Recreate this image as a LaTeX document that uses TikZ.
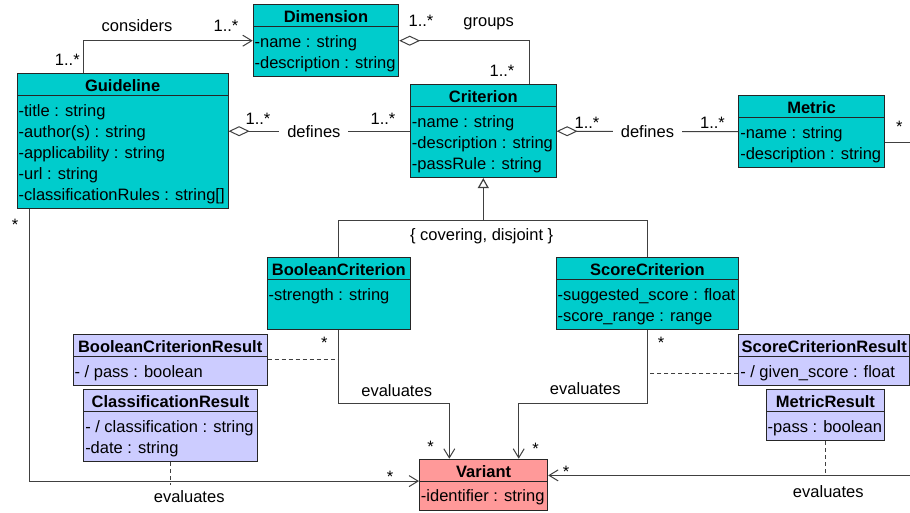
\documentclass[tikz,border=0pt]{standalone}
\usepackage{fontspec}
\setmainfont{Liberation Sans}
\usetikzlibrary{shapes.multipart,arrows.meta}

\definecolor{clsfill}{RGB}{0,204,204}
\definecolor{resfill}{RGB}{204,204,255}
\definecolor{varfill}{RGB}{255,153,153}

\newcommand{\ctitle}[1]{\rule[-3.3pt]{0pt}{21pt}\textbf{#1}}
\newcommand{\cattrs}[1]{\begin{tabular}{@{}l@{}}\rule{0pt}{20.4pt}#1\rule[-7.7pt]{0pt}{7.7pt}\end{tabular}}

\tikzset{
    classbox/.style={rectangle split, rectangle split parts=2, rectangle split part align={center,left},
                     draw=black!85, line width=0.9pt, fill=clsfill, inner xsep=1.5pt, inner ysep=0pt, anchor=north west},
    resbox/.style={classbox, fill=resfill},
    varbox/.style={classbox, fill=varfill},
    lbl/.style={anchor=base, inner sep=0pt},
    assoc/.style={draw=black!75, line width=1pt, -{Straight Barb[length=9pt,width=11pt]}},
    aggr/.style={draw=black!75, line width=1pt, {Diamond[open,fill=white,length=21pt,width=10pt]}-},
    gen/.style={draw=black!75, line width=1.2pt},
    assoclink/.style={draw=black!75, line width=1pt, dash pattern=on 4pt off 3pt},
}

\begin{document}
\begin{tikzpicture}[x=1pt, y=-1pt, font=\fontsize{16.5}{21}\selectfont]

    \path[fill=white, use as bounding box] (0,0) rectangle (910,512);

    % classes
    \node[classbox, minimum width=145.6pt]  (dim)   at (252.7,4.3)   {\ctitle{Dimension}\nodepart{two}\cattrs{-name : string\\-description : string}};
    \node[classbox, minimum width=211pt]    (guide) at (16.7,73.3)   {\ctitle{Guideline}\nodepart{two}\cattrs{-title : string\\-author(s) : string\\-applicability : string\\-url : string\\-classificationRules : string[]}};
    \node[classbox, minimum width=145.7pt]  (crit)  at (410,84.3)    {\ctitle{Criterion}\nodepart{two}\cattrs{-name : string\\-description : string\\-passRule : string}};
    \node[classbox, minimum width=145.7pt]  (met)   at (738.3,95.3)  {\ctitle{Metric}\nodepart{two}\cattrs{-name : string\\-description : string}};
    \node[classbox, minimum width=143.3pt]  (bc)    at (266.7,257.3) {\ctitle{BooleanCriterion}\nodepart{two}\cattrs{-strength : string\\~}};
    \node[classbox, minimum width=182.6pt]  (sc)    at (555.7,257.3) {\ctitle{ScoreCriterion}\nodepart{two}\cattrs{-suggested\_score : float\\-score\_range : range}};

    \node[resbox, minimum width=194pt]      (bcr)   at (72.7,334)    {\ctitle{BooleanCriterionResult}\nodepart{two}\cattrs{- / pass : boolean}};
    \node[resbox, minimum width=171pt]      (scr)   at (738.3,334)   {\ctitle{ScoreCriterionResult}\nodepart{two}\cattrs{- / given\_score : float}};
    \node[resbox, minimum width=173.7pt]    (cr)    at (83.3,389.3)  {\ctitle{ClassificationResult}\nodepart{two}\cattrs{- / classification : string\\-date : string}};
    \node[resbox, minimum width=118.6pt]    (mr)    at (765.7,389.3) {\ctitle{MetricResult}\nodepart{two}\cattrs{-pass : boolean}};

    \node[varbox, minimum width=128.3pt]    (var)   at (419,458.7)   {\ctitle{Variant}\nodepart{two}\cattrs{-identifier : string}};

    % helper points
    \coordinate (gj)    at ([yshift=-42.3pt]crit.south);
    \coordinate (mline) at ([yshift=9.2pt]var.east);
    \coordinate (scd)   at ([yshift=-13.85pt]scr.west);

    % associations
    \draw[assoc]    ([xshift=66.6pt]guide.north west)  |-  (dim.west);
    \draw[aggr]     (dim.east)  -|  ([xshift=-27.4pt]crit.north east);
    \draw[aggr]     (guide.east |- crit.west)  --  node[pos=0.47, fill=white, inner xsep=8pt, inner ysep=0pt] (defa) {defines}  (crit.west);
    \draw[aggr]     (crit.east)  --  node[fill=white, inner xsep=8pt, inner ysep=0pt] (defb) {defines}  (met.west);
    \draw[assoc]    ([yshift=-10.35pt]met.east)  --  ++(46,0)  |-  (mline);
    \draw[assoc]    ([xshift=12.6pt]guide.south west)  |-  ([yshift=3.5pt]var.west);
    \draw[assoc]    (bc.south)  --  ++(0,73)  -|  ([xshift=30.3pt]var.north west);
    \draw[assoc]    (sc.south)  --  ++(0,73)  -|  ([xshift=99.7pt]var.north west);

    % generalization
    \draw[gen]      (bc.north)  |-  (gj)  -|  (sc.north);
    \draw[gen, -{Triangle[open,fill=white,length=10pt,width=11pt]}]  (gj)  --  (crit.south);

    % association classes
    \draw[assoclink]  (bcr.east)  --  (bcr.east -| bc.south);
    \draw[assoclink]  (scd)  --  (scd -| sc.south);
    \draw[assoclink]  (cr.south)  --  (cr.south |- var.west);
    \draw[assoclink]  (mr.south)  --  (mr.south |- mline);

    % labels and multiplicities
    \node[lbl] (lcons)  at (137,31.7)    {considers};
    \node[lbl] (mcons1) at (226,31.7)    {1..*};
    \node[lbl] (mcons2) at (67.3,65)     {1..*};
    \node[lbl] (mgrp1)  at (421,26.7)    {1..*};
    \node[lbl] (lgrp)   at (488.7,26.5)  {groups};
    \node[lbl] (mgrp2)  at (502,76.7)    {1..*};
    \node[lbl] (mdefa1) at (258,124.3)   {1..*};
    \node[lbl] (mdefa2) at (383,124)     {1..*};
    \node[lbl] (mdefb1) at (587,128)     {1..*};
    \node[lbl] (mdefb2) at (712.5,128)   {1..*};
    \node[lbl] (mmet)   at (899.3,132.9) {*};
    \node[lbl] (mguide) at (15,230.6)    {*};
    \node[lbl] (lgen)   at (481.7,240.7) {\{ covering, disjoint \}};
    \node[lbl] (mbc)    at (324.3,348.6) {*};
    \node[lbl] (lbc)    at (396.7,396)   {evaluates};
    \node[lbl] (mbcv)   at (430.7,452.3) {*};
    \node[lbl] (msc)    at (661,348.6)   {*};
    \node[lbl] (lsc)    at (585.3,394)   {evaluates};
    \node[lbl] (mscv)   at (535.7,454.6) {*};
    \node[lbl] (mguv)   at (390,482.9)   {*};
    \node[lbl] (lgu)    at (189.2,502)   {evaluates};
    \node[lbl] (mmetv)  at (566,477.9)   {*};
    \node[lbl] (lmet)   at (828.3,497.5) {evaluates};

\end{tikzpicture}
\end{document}
